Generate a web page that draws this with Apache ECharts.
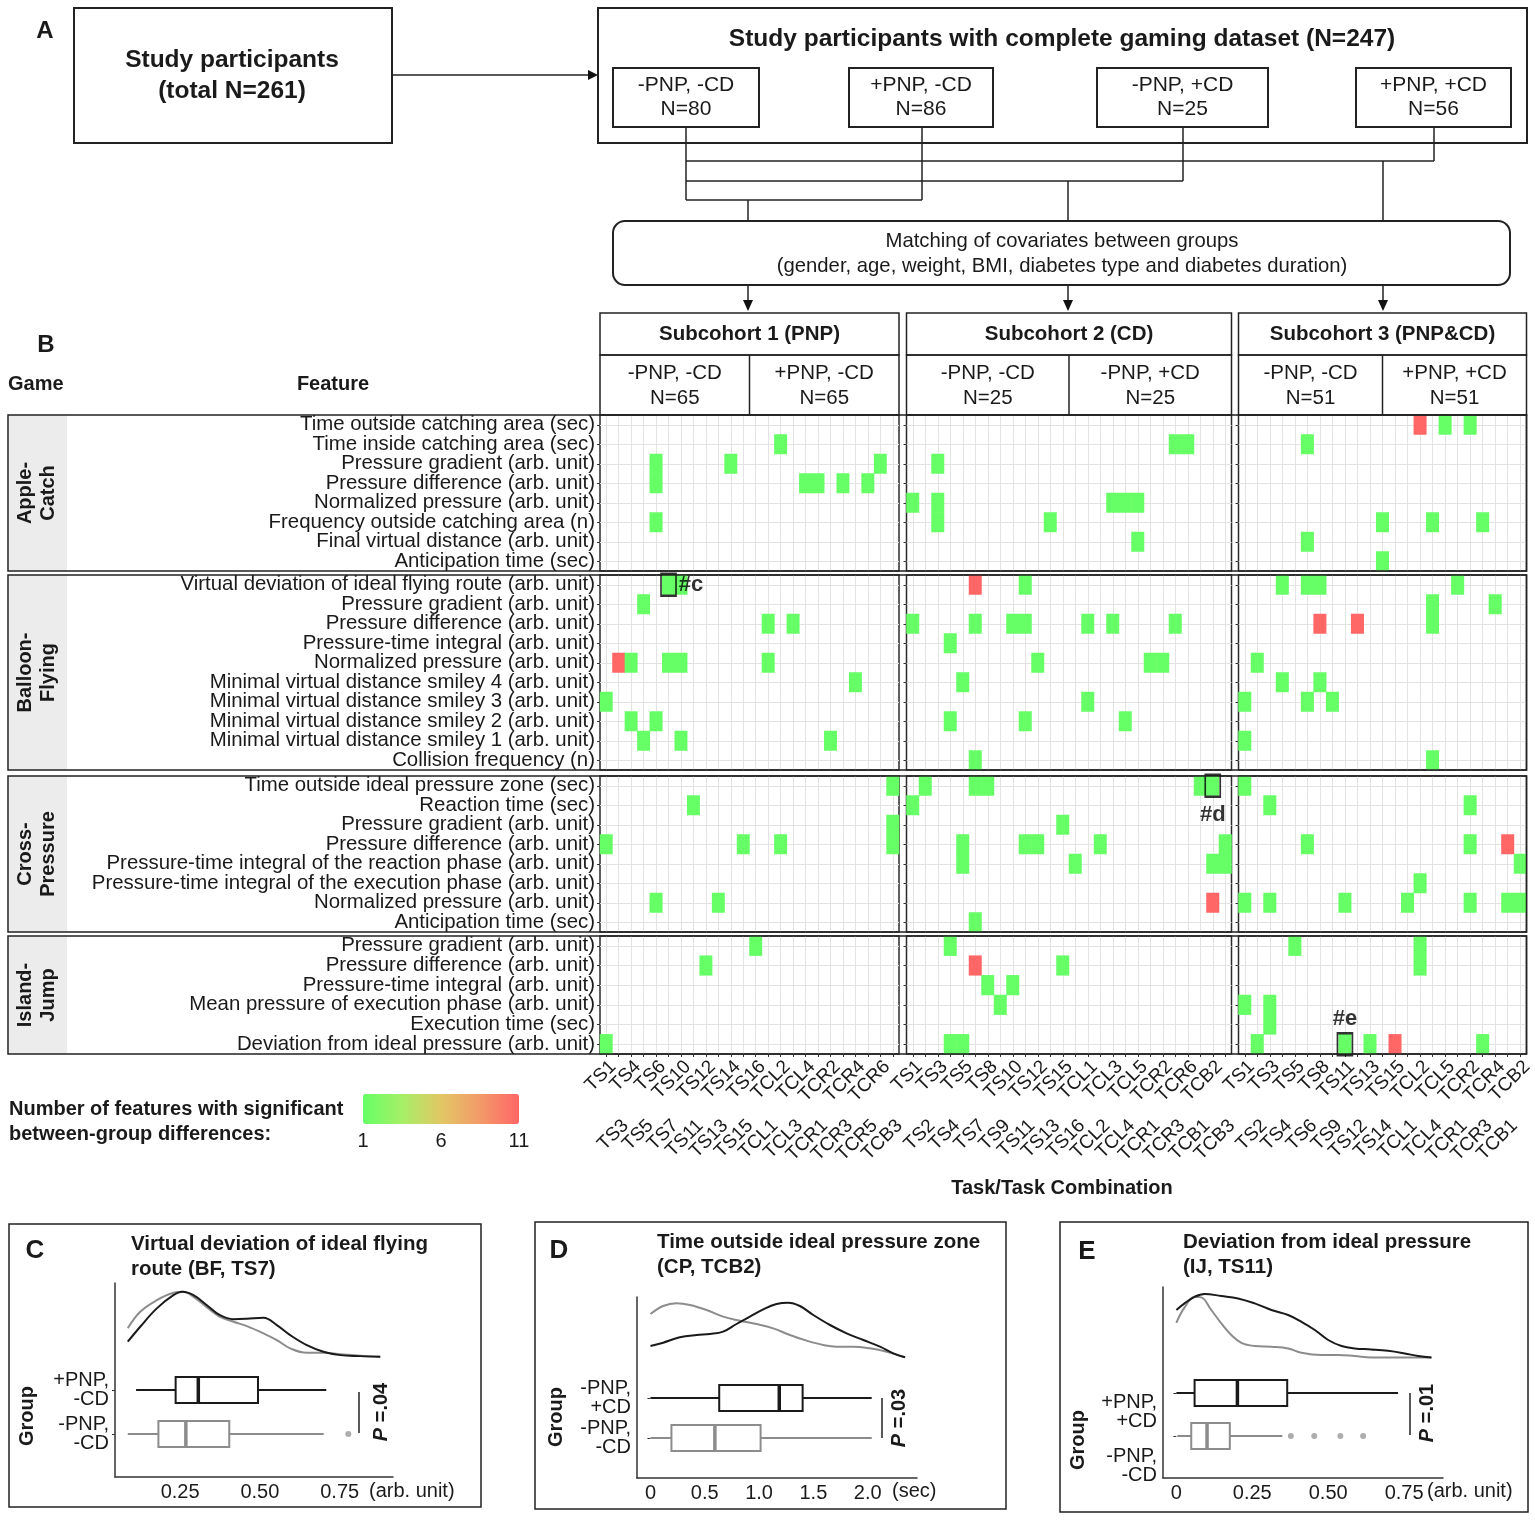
<!DOCTYPE html>
<html>
<head>
<meta charset="utf-8">
<title>Gaming features – significant between-group differences</title>
<script src="https://cdn.jsdelivr.net/npm/echarts@6/dist/echarts.min.js"></script>
<style>
html,body{margin:0;padding:0;background:#ffffff;}
#chart{width:1535px;height:1521px;}
</style>
</head>
<body>
<div id="chart"></div>
<script>
// ======================= DATA =======================
const gameNames = ['Apple-\nCatch', 'Balloon-\nFlying', 'Cross-\nPressure', 'Island-\nJump'];

const appleCatchFeatures = ['Time outside catching area (sec)', 'Time inside catching area (sec)', 'Pressure gradient (arb. unit)', 'Pressure difference (arb. unit)', 'Normalized pressure (arb. unit)', 'Frequency outside catching area (n)', 'Final virtual distance (arb. unit)', 'Anticipation time (sec)'];
const balloonFlyingFeatures = ['Virtual deviation of ideal flying route (arb. unit)', 'Pressure gradient (arb. unit)', 'Pressure difference (arb. unit)', 'Pressure-time integral (arb. unit)', 'Normalized pressure (arb. unit)', 'Minimal virtual distance smiley 4 (arb. unit)', 'Minimal virtual distance smiley 3 (arb. unit)', 'Minimal virtual distance smiley 2 (arb. unit)', 'Minimal virtual distance smiley 1 (arb. unit)', 'Collision frequency (n)'];
const crossPressureFeatures = ['Time outside ideal pressure zone (sec)', 'Reaction time (sec)', 'Pressure gradient (arb. unit)', 'Pressure difference (arb. unit)', 'Pressure-time integral of the reaction phase (arb. unit)', 'Pressure-time integral of the execution phase (arb. unit)', 'Normalized pressure (arb. unit)', 'Anticipation time (sec)'];
const islandJumpFeatures = ['Pressure gradient (arb. unit)', 'Pressure difference (arb. unit)', 'Pressure-time integral (arb. unit)', 'Mean pressure of execution phase (arb. unit)', 'Execution time (sec)', 'Deviation from ideal pressure (arb. unit)'];

const tasksS1 = ['TS1','TS3','TS4','TS5','TS6','TS7','TS10','TS11','TS12','TS13','TS14','TS15','TS16','TCL1','TCL2','TCL3','TCL4','TCR1','TCR2','TCR3','TCR4','TCR5','TCR6','TCB3'];
const tasksS2 = ['TS1','TS2','TS3','TS4','TS5','TS7','TS8','TS9','TS10','TS11','TS12','TS13','TS15','TS16','TCL1','TCL2','TCL3','TCL4','TCL5','TCR1','TCR2','TCR3','TCR6','TCB1','TCB2','TCB3'];
const tasksS3 = ['TS1','TS2','TS3','TS4','TS5','TS6','TS8','TS9','TS11','TS12','TS13','TS14','TS15','TCL1','TCL2','TCL4','TCL5','TCR1','TCR2','TCR3','TCR4','TCB1','TCB2'];

const subcohortTitles = ['Subcohort 1 (PNP)', 'Subcohort 2 (CD)', 'Subcohort 3 (PNP&CD)'];
const subcohortGroups = [['-PNP, -CD\nN=65', '+PNP, -CD\nN=65'], ['-PNP, -CD\nN=25', '-PNP, +CD\nN=25'], ['-PNP, -CD\nN=51', '+PNP, +CD\nN=51']];

// cells: [task, feature row, number of features]
const s1AppleCatch = [['TCL2',1,1],['TS6',2,1],['TS6',3,1],['TS14',2,1],['TCR6',2,1],['TCL4',3,1],['TCR1',3,1],['TCR3',3,1],['TCR5',3,1],['TS6',5,1]];
const s1BalloonFlying = [['TS7',0,1],['TS10',0,1],['TS5',1,1],['TCL1',2,1],['TCL3',2,1],['TS3',4,11],['TS4',4,1],['TS7',4,1],['TS10',4,1],['TCL1',4,1],['TCR4',5,1],['TS1',6,1],['TS4',7,1],['TS6',7,1],['TS5',8,1],['TS10',8,1],['TCR2',8,1]];
const s1CrossPressure = [['TCB3',0,1],['TS11',1,1],['TCB3',2,1],['TCB3',3,1],['TS1',3,1],['TS15',3,1],['TCL2',3,1],['TS6',6,1],['TS13',6,1]];
const s1IslandJump = [['TS16',0,1],['TS12',1,1],['TS1',5,1]];

const s2AppleCatch = [['TCR3',1,1],['TCR6',1,1],['TS3',2,1],['TS1',4,1],['TS3',4,1],['TCL3',4,1],['TCL4',4,1],['TCL5',4,1],['TS3',5,1],['TS13',5,1],['TCL5',6,1]];
const s2BalloonFlying = [['TS7',0,11],['TS11',0,1],['TS1',2,1],['TS7',2,1],['TS10',2,1],['TS11',2,1],['TCL1',2,1],['TCL3',2,1],['TCR3',2,1],['TS4',3,1],['TS12',4,1],['TCR1',4,1],['TCR2',4,1],['TS5',5,1],['TCL1',6,1],['TS4',7,1],['TS11',7,1],['TCL4',7,1],['TS7',9,1]];
const s2CrossPressure = [['TS2',0,1],['TS7',0,1],['TS8',0,1],['TCB1',0,1],['TCB2',0,1],['TS1',1,1],['TS15',2,1],['TS5',3,1],['TS11',3,1],['TS12',3,1],['TCL2',3,1],['TCB3',3,1],['TS5',4,1],['TS16',4,1],['TCB2',4,1],['TCB3',4,1],['TCB2',6,11],['TS7',7,1]];
const s2IslandJump = [['TS4',0,1],['TS7',1,11],['TS15',1,1],['TS8',2,1],['TS10',2,1],['TS9',3,1],['TS4',5,1],['TS5',5,1]];

const s3AppleCatch = [['TCL2',0,11],['TCL5',0,1],['TCR2',0,1],['TS6',1,1],['TS14',5,1],['TCL4',5,1],['TCR3',5,1],['TS6',6,1],['TS14',7,1]];
const s3BalloonFlying = [['TS4',0,1],['TS6',0,1],['TS8',0,1],['TCR1',0,1],['TCL4',1,1],['TCR4',1,1],['TS8',2,11],['TS12',2,11],['TCL4',2,1],['TS2',4,1],['TS4',5,1],['TS8',5,1],['TS1',6,1],['TS6',6,1],['TS9',6,1],['TS1',8,1],['TCL4',9,1]];
const s3CrossPressure = [['TS1',0,1],['TS3',1,1],['TCR2',1,1],['TS6',3,1],['TCR2',3,1],['TCB1',3,11],['TCB2',4,1],['TCL2',5,1],['TS1',6,1],['TS3',6,1],['TS11',6,1],['TCL1',6,1],['TCR2',6,1],['TCB1',6,1],['TCB2',6,1]];
const s3IslandJump = [['TS5',0,1],['TCL2',0,1],['TCL2',1,1],['TS1',3,1],['TS3',3,1],['TS3',4,1],['TS2',5,1],['TS11',5,1],['TS13',5,1],['TS15',5,11],['TCR3',5,1]];

// highlighted cells (task, feature row, tag)
const highlightC = ['TS7', 0, '#c'];
const highlightD = ['TCB2', 0, '#d'];
const highlightE = ['TS11', 5, '#e'];

const legendTicks = ['1', '6', '11'];

// Panel C
const cGroups = ['-PNP,\n-CD', '+PNP,\n-CD'];
const cBoxStats = [[0.086, 0.182, 0.268, 0.404, 0.700], [0.112, 0.236, 0.307, 0.494, 0.708]];
const cOutliers = [0.777];
const cTicks = [0.25, 0.5, 0.75];
const cDensityX = [0.086,0.125,0.177,0.229,0.258,0.292,0.334,0.375,0.417,0.459,0.511,0.553,0.595,0.647,0.699,0.752,0.814,0.877];
const cDensityCase = [0.75,1.50,2.42,3.08,3.25,3.08,2.58,2.08,1.88,1.90,1.95,1.58,1.08,0.58,0.25,0.08,0.03,0.00];
const cDensityCtrl = [1.42,2.25,2.83,3.20,3.25,3.00,2.47,2.00,1.75,1.53,1.17,0.83,0.42,0.20,0.20,0.13,0.05,0.00];

// Panel D
const dGroups = ['-PNP,\n-CD', '-PNP,\n+CD'];
const dBoxStats = [[0.000, 0.193, 0.593, 1.014, 2.037], [0.000, 0.633, 1.186, 1.401, 2.037]];
const dOutliers = [];
const dTicks = [0, 0.5, 1.0, 1.5, 2.0];
const dDensityXCase = [0.000,0.117,0.270,0.424,0.547,0.669,0.792,0.915,1.038,1.161,1.268,1.376,1.499,1.653,1.806,1.960,2.113,2.236,2.344];
const dDensityCase = [0.34,0.44,0.60,0.67,0.70,0.77,1.00,1.22,1.44,1.60,1.64,1.54,1.27,0.97,0.72,0.52,0.32,0.12,0.00];
const dDensityXCtrl = [0.000,0.117,0.240,0.363,0.516,0.669,0.823,0.977,1.130,1.284,1.437,1.591,1.714,1.868,2.021,2.175,2.344];
const dDensityCtrl = [1.30,1.54,1.62,1.57,1.42,1.22,1.10,1.00,0.87,0.67,0.50,0.37,0.32,0.32,0.27,0.17,0.00];

// Panel E
const eGroups = ['-PNP,\n-CD', '+PNP,\n+CD'];
const eBoxStats = [[0.003, 0.049, 0.101, 0.176, 0.349], [0.000, 0.060, 0.201, 0.365, 0.730]];
const eOutliers = [0.377, 0.454, 0.540, 0.615];
const eTicks = [0, 0.25, 0.5, 0.75];
const eDensityXCase = [0.000,0.027,0.060,0.093,0.148,0.203,0.258,0.313,0.368,0.412,0.456,0.500,0.544,0.587,0.642,0.697,0.752,0.796,0.840];
const eDensityCase = [2.37,2.70,3.03,3.17,3.07,2.95,2.70,2.37,2.12,1.78,1.37,0.87,0.57,0.45,0.40,0.33,0.20,0.07,0.00];
const eDensityXCtrl = [0.000,0.027,0.060,0.082,0.115,0.148,0.181,0.214,0.258,0.313,0.368,0.412,0.478,0.533,0.587,0.642,0.697,0.752,0.840];
const eDensityCtrl = [1.73,2.50,3.03,3.00,2.37,1.70,1.12,0.73,0.57,0.53,0.45,0.23,0.12,0.12,0.07,0.00,0.00,0.00,0.00];

// ======================= STYLE / LAYOUT =======================
const FONT = '"Liberation Sans", Arial, Helvetica, sans-serif';
const INK = '#1a1a1a';
const GRAY = '#8c8c8c';

const taskLists = [tasksS1, tasksS2, tasksS3];
const featureLists = [appleCatchFeatures, balloonFlyingFeatures, crossPressureFeatures, islandJumpFeatures];
const cellLists = [
  [s1AppleCatch, s2AppleCatch, s3AppleCatch],
  [s1BalloonFlying, s2BalloonFlying, s3BalloonFlying],
  [s1CrossPressure, s2CrossPressure, s3CrossPressure],
  [s1IslandJump, s2IslandJump, s3IslandJump]
];
const colX = [[600, 299], [906.5, 325], [1238.5, 288]];
const rowY = [[415, 156], [575, 195], [776, 156], [936, 118]];

const grids = [], xAxes = [], yAxes = [], series = [];
function addGrid(l, t, w, h, extra) {
  grids.push(Object.assign({left: l, top: t, width: w, height: h, containLabel: false, outerBoundsMode: 'none'}, extra || {}));
  return grids.length - 1;
}
function everyOther(parity) {
  return function (value, index) { return index % 2 === parity ? value : ''; };
}

const heatGridIndex = [];
for (let g = 0; g < 4; g++) {
  heatGridIndex.push([]);
  for (let s = 0; s < 3; s++) {
    const gi = addGrid(colX[s][0], rowY[g][0], colX[s][1], rowY[g][1],
      {show: true, borderColor: '#2b2b2b', borderWidth: 1.5, backgroundColor: '#ffffff'});
    heatGridIndex[g].push(gi);
    const bottom = g === 3;
    xAxes.push({
      type: 'category', gridIndex: gi, data: taskLists[s], boundaryGap: true,
      axisLine: {show: false},
      axisTick: {show: bottom, interval: 0, alignWithLabel: true, length: 3, lineStyle: {color: '#333'}},
      axisLabel: {show: bottom, interval: 0, formatter: everyOther(0), rotate: 45, margin: 3, verticalAlign: 'top',
        fontSize: 19, fontFamily: FONT, color: INK},
      splitLine: {show: true, interval: 0, alignWithLabel: true, lineStyle: {color: '#e3e3e3', width: 1}}
    });
    yAxes.push({
      type: 'category', gridIndex: gi, data: featureLists[g], inverse: true,
      axisLine: {show: false},
      axisTick: {show: true, interval: 0, alignWithLabel: true, length: 3, lineStyle: {color: '#333'}},
      axisLabel: {show: s === 0, interval: 0, margin: 5, fontSize: 20.4, fontFamily: FONT, color: INK},
      splitLine: {show: true, interval: 0, alignWithLabel: true, lineStyle: {color: '#e3e3e3', width: 1}}
    });
    series.push({type: 'heatmap', xAxisIndex: gi, yAxisIndex: gi, data: cellLists[g][s],
      emphasis: {disabled: true}, itemStyle: {borderWidth: 0}, z: 2, silent: true});
  }
}
const heatSeriesIdx = series.map(function (_, i) { return i; });

// second row of task labels (odd positions)
for (let s = 0; s < 3; s++) {
  const gi = addGrid(colX[s][0], rowY[3][0], colX[s][1], rowY[3][1]);
  xAxes.push({
    type: 'category', gridIndex: gi, data: taskLists[s], boundaryGap: true,
    axisLine: {show: false}, axisTick: {show: false}, splitLine: {show: false},
    axisLabel: {interval: 0, formatter: everyOther(1), rotate: 45, margin: 62, verticalAlign: 'top',
      fontSize: 19, fontFamily: FONT, color: INK}
  });
  yAxes.push({type: 'value', gridIndex: gi, show: false});
}

// highlight boxes
[{cell: highlightC, g: 1, s: 0, pos: 'right'},
 {cell: highlightD, g: 2, s: 1, pos: 'bottom'},
 {cell: highlightE, g: 3, s: 2, pos: 'top'}].forEach(function (h) {
  const gi = heatGridIndex[h.g][h.s];
  series.push({
    type: 'scatter', xAxisIndex: gi, yAxisIndex: gi, symbol: 'rect', symbolSize: [15, 22], z: 6, silent: true,
    data: [[h.cell[0], h.cell[1]]],
    itemStyle: {color: 'rgba(0,0,0,0)', borderColor: '#000', borderWidth: 2},
    label: {show: true, position: h.pos, distance: h.pos === 'bottom' ? 6 : 2, formatter: h.cell[2], fontSize: 22, fontWeight: 'bold',
      color: '#000', fontFamily: FONT}
  });
});

// legend tick grid
const legGi = addGrid(363, 1124, 156, 2);
xAxes.push({type: 'category', gridIndex: legGi, data: legendTicks, boundaryGap: false,
  axisLine: {show: false}, axisTick: {show: false}, splitLine: {show: false},
  axisLabel: {interval: 0, margin: 5, fontSize: 20, color: INK, fontFamily: FONT}});
yAxes.push({type: 'value', gridIndex: legGi, show: false});

// box + density panels
function zip(xs, ys) { return xs.map(function (x, i) { return [x, ys[i]]; }); }
function makeBoxRender(boxH, colors) {
  return function (params, api) {
    const cat = api.value(0);
    const c = colors[cat];
    const p = [1, 2, 3, 4, 5].map(function (i) { return api.coord([api.value(i), cat]); });
    const y = p[0][1];
    return {type: 'group', children: [
      {type: 'line', shape: {x1: p[0][0], y1: y, x2: p[1][0], y2: y}, style: {stroke: c, lineWidth: 2}},
      {type: 'line', shape: {x1: p[3][0], y1: y, x2: p[4][0], y2: y}, style: {stroke: c, lineWidth: 2}},
      {type: 'rect', shape: {x: p[1][0], y: y - boxH / 2, width: p[3][0] - p[1][0], height: boxH},
        style: {fill: '#ffffff', stroke: c, lineWidth: 2}},
      {type: 'line', shape: {x1: p[2][0], y1: y - boxH / 2, x2: p[2][0], y2: y + boxH / 2},
        style: {stroke: c, lineWidth: 3.5}}
    ]};
  };
}
const plainLabel = function (v) { return v; };
const panels = [
  {frame: [115, 1283, 278, 194], box: [1368, 88], xr: [0.046, 0.917], yr: [-6.02, 3.69], ticks: cTicks,
   fmt: function (v) { return v.toFixed(2); }, groups: cGroups, stats: cBoxStats, outliers: cOutliers,
   ctrl: zip(cDensityX, cDensityCtrl), cas: zip(cDensityX, cDensityCase), va: 'middle', gfmt: plainLabel},
  {frame: [637, 1297, 280, 181], box: [1378, 80], xr: [-0.124, 2.454], yr: [-3.62, 1.81], ticks: dTicks,
   fmt: function (v) { return v === 0 ? '0' : v.toFixed(1); }, groups: dGroups, stats: dBoxStats, outliers: dOutliers,
   ctrl: zip(dDensityXCtrl, dDensityCtrl), cas: zip(dDensityXCase, dDensityCase), va: 'middle', gfmt: plainLabel},
  {frame: [1163, 1287, 280, 191], box: [1371.5, 86], xr: [-0.044, 0.878], yr: [-6.03, 3.52], ticks: eTicks,
   fmt: function (v) { return v === 0 ? '0' : v.toFixed(2); }, groups: eGroups, stats: eBoxStats, outliers: eOutliers,
   ctrl: zip(eDensityXCtrl, eDensityCtrl), cas: zip(eDensityXCase, eDensityCase), va: 'top',
   gfmt: function (v, i) { return i === 0 ? '{s| }\n' + v : v; }}
];
panels.forEach(function (p) {
  const fi = addGrid(p.frame[0], p.frame[1], p.frame[2], p.frame[3]);
  xAxes.push({type: 'value', gridIndex: fi, min: p.xr[0], max: p.xr[1],
    axisLine: {show: true, onZero: false, lineStyle: {color: '#333', width: 1.5}},
    axisTick: {show: false}, splitLine: {show: false},
    axisLabel: {customValues: p.ticks, formatter: p.fmt, margin: 5, fontSize: 20, color: INK, fontFamily: FONT}});
  yAxes.push({type: 'value', gridIndex: fi, min: p.yr[0], max: p.yr[1],
    axisLine: {show: true, onZero: false, lineStyle: {color: '#333', width: 1.5}},
    axisTick: {show: false}, axisLabel: {show: false}, splitLine: {show: false}});
  series.push({type: 'line', xAxisIndex: fi, yAxisIndex: fi, data: p.ctrl, smooth: 0.4, symbol: 'none',
    lineStyle: {color: GRAY, width: 2}, silent: true, z: 3});
  series.push({type: 'line', xAxisIndex: fi, yAxisIndex: fi, data: p.cas, smooth: 0.4, symbol: 'none',
    lineStyle: {color: INK, width: 2}, silent: true, z: 4});

  const bi = addGrid(p.frame[0], p.box[0], p.frame[2], p.box[1]);
  xAxes.push({type: 'value', gridIndex: bi, min: p.xr[0], max: p.xr[1], show: false});
  yAxes.push({type: 'category', gridIndex: bi, data: p.groups,
    axisLine: {show: false},
    axisTick: {show: true, alignWithLabel: true, length: 3, lineStyle: {color: '#333'}},
    splitLine: {show: false},
    axisLabel: {interval: 0, margin: 6, fontSize: 20, lineHeight: 19, color: INK, fontFamily: FONT,
      verticalAlign: p.va, formatter: p.gfmt, rich: {s: {fontSize: 8, lineHeight: 11}}}});
  series.push({type: 'custom', xAxisIndex: bi, yAxisIndex: bi, renderItem: makeBoxRender(26, [GRAY, INK]),
    data: p.stats.map(function (s, i) { return [i].concat(s); }), encode: {x: [1, 2, 3, 4, 5], y: 0}, silent: true, z: 3});
  if (p.outliers.length) {
    series.push({type: 'scatter', xAxisIndex: bi, yAxisIndex: bi, data: p.outliers.map(function (v) { return [v, 0]; }),
      symbolSize: 6, itemStyle: {color: '#999'}, silent: true, z: 4});
  }
});

// ======================= GRAPHICS (frames / texts) =======================
const G = [];
function T(x, y, str, o) {
  o = o || {};
  const st = {text: str, fontSize: o.size || 20, fontWeight: o.bold ? 'bold' : 'normal', fontFamily: FONT,
    fill: o.color || INK, align: o.align || 'center', textAlign: o.align || 'center',
    verticalAlign: 'middle', textVerticalAlign: 'middle'};
  if (o.lh) st.lineHeight = o.lh;
  if (o.rich) st.rich = o.rich;
  G.push({type: 'text', x: x, y: y, rotation: o.rot || 0, style: st, z: 20, silent: true});
}
function R(x, y, w, h, o) {
  o = o || {};
  G.push({type: 'rect', shape: {x: x, y: y, width: w, height: h, r: o.r || 0},
    style: {fill: o.fill || 'none', stroke: o.stroke === undefined ? '#222' : o.stroke, lineWidth: o.lw || 1.5},
    z: o.z || 15, silent: true});
}
function L(x1, y1, x2, y2, o) {
  o = o || {};
  G.push({type: 'line', shape: {x1: x1, y1: y1, x2: x2, y2: y2},
    style: {stroke: o.color || '#222', lineWidth: o.lw || 1.5}, z: 15, silent: true});
}
function P(points) {
  G.push({type: 'polygon', shape: {points: points}, style: {fill: '#111'}, z: 15, silent: true});
}

// ---- Part A ----
T(45, 31, 'A', {bold: true, size: 24});
R(74, 8, 318, 135, {lw: 2});
T(232, 76, 'Study participants\n(total N=261)', {bold: true, size: 24.5, lh: 31});
L(392, 75, 590, 75, {lw: 1.5});
P([[598, 75], [588, 70], [588, 80]]);
R(598, 8, 929, 135, {lw: 2});
T(1062, 39, 'Study participants with complete gaming dataset (N=247)', {bold: true, size: 24.5});
const baseBoxes = [[613, 146, '-PNP, -CD\nN=80'], [849, 144, '+PNP, -CD\nN=86'], [1097, 171, '-PNP, +CD\nN=25'], [1356, 155, '+PNP, +CD\nN=56']];
baseBoxes.forEach(function (b) {
  R(b[0], 68, b[1], 59, {lw: 2});
  T(b[0] + b[1] / 2, 97, b[2], {size: 21, lh: 24});
});
L(686, 127, 686, 200); L(922, 127, 922, 200); L(1183, 127, 1183, 181); L(1434, 127, 1434, 161);
L(686, 161, 1434, 161); L(686, 181, 1183, 181); L(686, 200, 922, 200);
L(748, 200, 748, 221); L(1068, 181, 1068, 221); L(1383, 161, 1383, 221);
R(613, 221, 897, 64, {lw: 2, r: 12});
T(1062, 241, 'Matching of covariates between groups', {size: 20.3});
T(1062, 266, '(gender, age, weight, BMI, diabetes type and diabetes duration)', {size: 20.3});
[748, 1068, 1383].forEach(function (x) { L(x, 285, x, 302); P([[x, 311], [x - 5, 300], [x + 5, 300]]); });

// ---- Part B ----
T(46, 345, 'B', {bold: true, size: 24});
T(8, 384, 'Game', {bold: true, size: 20, align: 'left'});
T(333, 384, 'Feature', {bold: true, size: 20});
for (let s = 0; s < 3; s++) {
  const x = colX[s][0], w = colX[s][1];
  R(x, 313, w, 42);
  R(x, 355, w, 60);
  L(x + w / 2, 355, x + w / 2, 415);
  T(x + w / 2, 334, subcohortTitles[s], {bold: true, size: 20.5});
  T(x + w / 4, 386, subcohortGroups[s][0], {size: 20.5, lh: 25});
  T(x + 3 * w / 4, 386, subcohortGroups[s][1], {size: 20.5, lh: 25});
}
for (let g = 0; g < 4; g++) {
  const t = rowY[g][0], h = rowY[g][1];
  R(9, t, 58, h, {fill: '#ececec', stroke: 'none', z: 1});
  R(8, t, colX[2][0] + colX[2][1] - 8, h, {lw: 1.5, z: 16});
  T(37, t + h / 2, gameNames[g], {bold: true, size: 20, lh: 23, rot: Math.PI / 2});
}
T(1062, 1188, 'Task/Task Combination', {bold: true, size: 20});
T(9, 1109, 'Number of features with significant', {bold: true, size: 20, align: 'left'});
T(9, 1134, 'between-group differences:', {bold: true, size: 20, align: 'left'});

// ---- Parts C, D, E ----
const pRich = {
  i: {fontStyle: 'italic', fontWeight: 'bold', fontSize: 20, fontFamily: FONT, fill: INK},
  n: {fontWeight: 'bold', fontSize: 20, fontFamily: FONT, fill: INK}
};
R(9, 1224, 472, 283);
T(35, 1251, 'C', {bold: true, size: 26});
T(131, 1244, 'Virtual deviation of ideal flying', {bold: true, size: 20.5, align: 'left'});
T(131, 1269, 'route (BF, TS7)', {bold: true, size: 20.5, align: 'left'});
T(27, 1416, 'Group', {bold: true, size: 20, rot: Math.PI / 2});
T(369, 1491, '(arb. unit)', {size: 20, align: 'left'});
L(359, 1392, 359, 1433, {lw: 1.5});
T(381, 1412, '{i|P} {n|=.04}', {rot: Math.PI / 2, rich: pRich});

R(535, 1222, 471, 287);
T(559, 1251, 'D', {bold: true, size: 26});
T(657, 1242, 'Time outside ideal pressure zone', {bold: true, size: 20.5, align: 'left'});
T(657, 1267, '(CP, TCB2)', {bold: true, size: 20.5, align: 'left'});
T(556, 1417, 'Group', {bold: true, size: 20, rot: Math.PI / 2});
T(892, 1491, '(sec)', {size: 20, align: 'left'});
L(882, 1398, 882, 1438, {lw: 1.5});
T(899, 1418, '{i|P} {n|=.03}', {rot: Math.PI / 2, rich: pRich});

R(1060, 1222, 468, 290);
T(1087, 1252, 'E', {bold: true, size: 26});
T(1183, 1242, 'Deviation from ideal pressure', {bold: true, size: 20.5, align: 'left'});
T(1183, 1267, '(IJ, TS11)', {bold: true, size: 20.5, align: 'left'});
T(1078, 1440, 'Group', {bold: true, size: 20, rot: Math.PI / 2});
T(1427, 1491, '(arb. unit)', {size: 20, align: 'left'});
L(1410, 1393, 1410, 1435, {lw: 1.5});
T(1427, 1413, '{i|P} {n|=.01}', {rot: Math.PI / 2, rich: pRich});

// ======================= OPTION =======================
const option = {
  animation: false,
  backgroundColor: '#ffffff',
  textStyle: {fontFamily: FONT},
  grid: grids,
  xAxis: xAxes,
  yAxis: yAxes,
  visualMap: [{
    type: 'continuous', min: 1, max: 11, dimension: 2, seriesIndex: heatSeriesIdx,
    orient: 'horizontal', left: 363, top: 1094, itemWidth: 30, itemHeight: 156,
    padding: 0, calculable: false, hoverLink: false, text: null,
    inRange: {color: ['#66ff66', '#a6ef66', '#e2c765', '#f39a69', '#ff6666']}
  }],
  series: series,
  graphic: {elements: G}
};

const chart = echarts.init(document.getElementById('chart'), null, {renderer: 'canvas', width: 1535, height: 1521});
chart.setOption(option);
</script>
</body>
</html>
